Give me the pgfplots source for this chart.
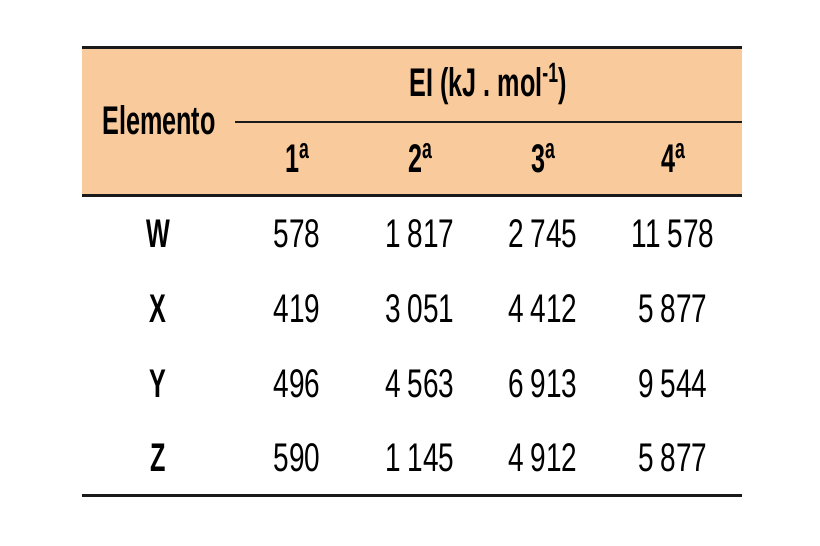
\documentclass[border=0pt]{standalone}
\usepackage{fontspec}
\usepackage{pgfplots}
\pgfplotsset{compat=1.18}
\usepackage{pgfplotstable}
\newfontfamily\body{Liberation Sans}[FakeStretch=0.70]
\newfontfamily\hdr{Liberation Sans}[FakeStretch=0.63]
\definecolor{headfill}{HTML}{F8CA9C}
\definecolor{rule}{HTML}{1A1A1A}
\newcommand{\upr}[1]{\raisebox{6.6pt}{\fontsize{14}{14}\selectfont #1}}

% ionisation energies, one row per element (x, y = cell baseline in px)
\pgfplotstableread{
x   y    v
297 247  578
420 247  1817
543 247  2745
673 247  11578
297 322  419
420 322  3051
543 322  4412
673 322  5877
297 397  496
420 397  4563
543 397  6913
673 397  9544
297 471  590
420 471  1145
543 471  4912
673 471  5877
}\ionis

\pgfplotstableread{
x   y    lab
158 247  W
158 322  X
158 397  Y
158 471  Z
}\elems

\tikzset{hd/.style={anchor=base, inner sep=0pt,
  font=\hdr\bfseries\fontsize{20}{24}\selectfont}}

\begin{document}
\begin{tikzpicture}
\begin{axis}[
  width=410pt, height=273pt, scale only axis,
  xmin=0, xmax=820, ymin=0, ymax=546, y dir=reverse,
  axis lines=none, clip=false,
]
\path (axis cs:0,0) rectangle (axis cs:820,546);
\fill[headfill] (axis cs:82,47) rectangle (axis cs:742,195);
\draw[rule, line width=1.5pt] (axis cs:82,47) -- (axis cs:742,47);
\draw[rule, line width=0.75pt] (axis cs:235,122) -- (axis cs:742,122);
\draw[rule, line width=1.5pt] (axis cs:82,195) -- (axis cs:742,195);
\draw[rule, line width=1.5pt] (axis cs:82,495) -- (axis cs:742,495);

\node[hd] at (axis cs:159,134) {Elemento};
\node[hd] at (axis cs:488,96) {EI (kJ . mol\upr{-1})};
\node[hd] at (axis cs:297,172) {1\upr{a}};
\node[hd] at (axis cs:420,172) {2\upr{a}};
\node[hd] at (axis cs:543,172) {3\upr{a}};
\node[hd] at (axis cs:673,172) {4\upr{a}};

\addplot[draw=none, mark=none, nodes near coords, point meta=explicit,
  every node near coord/.style={anchor=base, inner sep=0pt,
    font=\body\fontsize{20}{24}\selectfont,
    /pgf/number format/.cd, fixed, precision=0, 1000 sep={\,},
    assume math mode=true}]
  table[x=x, y=y, meta=v] {\ionis};

\addplot[draw=none, mark=none, nodes near coords, point meta=explicit symbolic,
  every node near coord/.style={hd}]
  table[x=x, y=y, meta=lab] {\elems};
\end{axis}
\end{tikzpicture}
\end{document}
